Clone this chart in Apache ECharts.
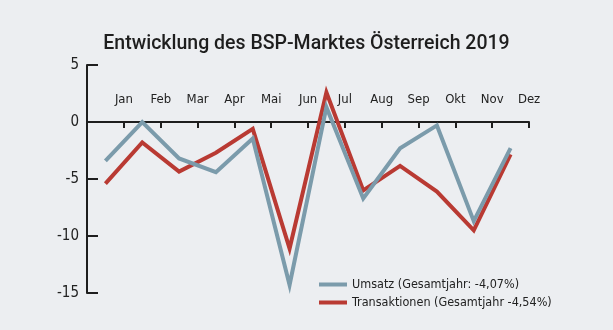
<!DOCTYPE html>
<html>
<head>
<meta charset="utf-8">
<script src="https://cdn.jsdelivr.net/npm/echarts@6/dist/echarts.min.js"></script>
<style>
html,body{margin:0;padding:0;background:#eceef1;}
#c{width:613px;height:330px;}
</style>
</head>
<body>
<div id="c"></div>
<script>
const titleText = 'Entwicklung des BSP-Marktes Österreich 2019';
const months = ['Jan','Feb','Mar','Apr','Mai','Jun','Jul','Aug','Sep','Okt','Nov','Dez'];
const umsatz = [-3.4, 0.0, -3.2, -4.4, -1.45, -14.3, 1.3, -6.7, -2.3, -0.3, -8.7, -2.3];
const transaktionen = [-5.4, -1.8, -4.35, -2.7, -0.6, -11.1, 2.6, -6.0, -3.85, -6.1, -9.5, -2.85];
const yTicks = {min: -15, max: 5, interval: 5};
const seriesNames = ['Umsatz (Gesamtjahr: -4,07%)', 'Transaktionen (Gesamtjahr -4,54%)'];

const FONT = '"Liberation Sans Narrow", "DejaVu Sans Condensed", Roboto, sans-serif';
const gridTop = 65, gridBottom = 37, H = 330;
const plotH = H - gridTop - gridBottom;
const zeroFromBottom = plotH * (0 - yTicks.min) / (yTicks.max - yTicks.min);

const chart = echarts.init(document.getElementById('c'), null, {renderer: 'canvas'});
chart.setOption({
  backgroundColor: '#eceef1',
  animation: false,
  title: {
    text: titleText,
    left: 'center',
    top: 29,
    textStyle: {fontFamily: 'Roboto', fontWeight: 500, fontSize: 19.5, color: '#1e1e1e'}
  },
  legend: {
    orient: 'vertical',
    left: 314,
    top: 273,
    itemWidth: 28,
    itemHeight: 4,
    itemGap: 5,
    icon: 'rect',
    data: [seriesNames[0], seriesNames[1]],
    textStyle: {fontFamily: FONT, fontSize: 12.5, color: '#222'}
  },
  grid: {left: 87, right: 84, top: gridTop, bottom: gridBottom},
  xAxis: {
    type: 'category',
    data: months,
    boundaryGap: true,
    position: 'bottom',
    offset: -zeroFromBottom,
    axisLine: {onZero: false, lineStyle: {color: '#1e1e1e', width: 2}},
    axisTick: {show: true, inside: false, length: 6, lineStyle: {color: '#1e1e1e', width: 2}},
    axisLabel: {
      inside: true,
      margin: 16,
      padding: [0, 0, 0, 37],
      fontFamily: FONT,
      fontSize: 13,
      color: '#222'
    },
    splitLine: {show: false}
  },
  yAxis: {
    type: 'value',
    min: yTicks.min,
    max: yTicks.max,
    interval: yTicks.interval,
    axisLine: {show: true, lineStyle: {color: '#1e1e1e', width: 2}},
    axisTick: {show: true, inside: true, length: 11, lineStyle: {color: '#1e1e1e', width: 2}},
    axisLabel: {margin: 8, fontFamily: FONT, fontSize: 15, color: '#222'},
    splitLine: {show: false}
  },
  series: [
    {
      name: seriesNames[1],
      type: 'line',
      data: transaktionen,
      symbol: 'none',
      z: 2,
      lineStyle: {color: '#b93a33', width: 4, join: 'miter'},
      itemStyle: {color: '#b93a33'}
    },
    {
      name: seriesNames[0],
      type: 'line',
      data: umsatz,
      symbol: 'none',
      z: 3,
      lineStyle: {color: '#7b9bab', width: 4, join: 'miter'},
      itemStyle: {color: '#7b9bab'}
    }
  ]
});
</script>
</body>
</html>
